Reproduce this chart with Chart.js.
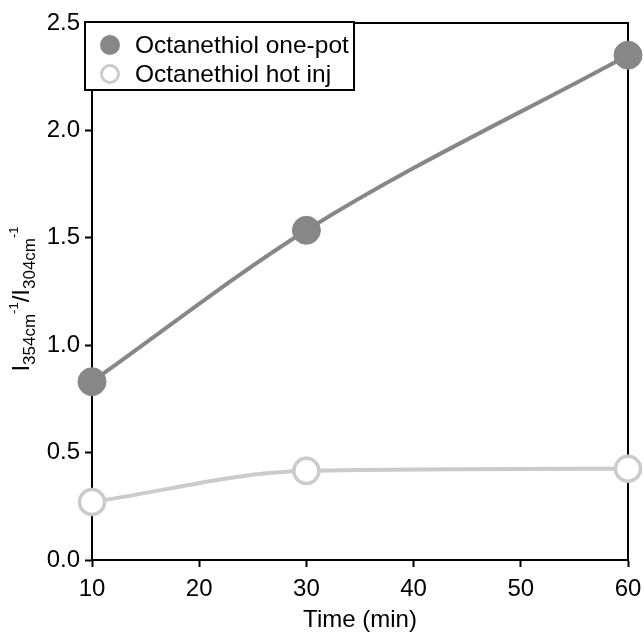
<!DOCTYPE html>
<html>
<head>
<meta charset="utf-8">
<script src="https://cdn.jsdelivr.net/npm/chart.js@4.4.1/dist/chart.umd.min.js"></script>
<style>
  html, body { margin: 0; padding: 0; background: #fff; }
  #chart { display: block; }
</style>
</head>
<body>
<canvas id="chart" width="644" height="632"></canvas>
<script>
const times = [10, 30, 60];
const onePot = [0.83, 1.535, 2.35];
const hotInj = [0.27, 0.415, 0.425];
const seriesNames = ['Octanethiol one-pot', 'Octanethiol hot inj'];
const yTicks = [0, 0.5, 1.0, 1.5, 2.0, 2.5];
const xTicks = [10, 20, 30, 40, 50, 60];

const FONT = '"Liberation Sans", Arial, sans-serif';
const darkGrey = '#878787';
const lightGrey = '#cbcbcb';

function toPoints(xs, ys) {
    return xs.map((x, i) => ({ x: x, y: ys[i] }));
}

// top and right edges of the frame
const framePlugin = {
    id: 'frame',
    beforeDatasetsDraw(chart) {
        const { ctx, chartArea: a } = chart;
        ctx.save();
        ctx.strokeStyle = '#000';
        ctx.lineWidth = 2;
        ctx.beginPath();
        ctx.moveTo(a.left, a.top);
        ctx.lineTo(a.right, a.top);
        ctx.lineTo(a.right, a.bottom);
        ctx.stroke();
        ctx.restore();
    }
};

// y title with sub/superscripts: I354cm-1 / I304cm-1
const yTitlePlugin = {
    id: 'yTitle',
    afterDraw(chart) {
        const ctx = chart.ctx;
        const parts = [
            { t: 'I', size: 24, dy: 0 },
            { t: '354cm', size: 17, dy: 6 },
            { t: '-1', size: 13, dy: -11 },
            { t: '/', size: 24, dy: 0 },
            { t: 'I', size: 24, dy: 0 },
            { t: '304cm', size: 17, dy: 6 },
            { t: '-1', size: 13, dy: -11 },
        ];
        ctx.save();
        let total = 0;
        parts.forEach(p => {
            ctx.font = p.size + 'px ' + FONT;
            p.w = ctx.measureText(p.t).width;
            total += p.w;
        });
        ctx.translate(29, 299);
        ctx.rotate(-Math.PI / 2);
        ctx.fillStyle = '#000';
        ctx.textBaseline = 'alphabetic';
        let x = -total / 2;
        parts.forEach(p => {
            ctx.font = p.size + 'px ' + FONT;
            ctx.fillText(p.t, x, p.dy);
            x += p.w;
        });
        ctx.restore();
    }
};

// boxed legend in the upper left corner
const boxLegendPlugin = {
    id: 'boxLegend',
    afterDraw(chart) {
        const ctx = chart.ctx;
        const left = 85, top = 22, w = 269, h = 68;
        ctx.save();
        ctx.fillStyle = '#fff';
        ctx.fillRect(left, top, w, h);
        ctx.strokeStyle = '#000';
        ctx.lineWidth = 2;
        ctx.strokeRect(left, top, w, h);
        ctx.font = '24.5px ' + FONT;
        ctx.textBaseline = 'middle';
        chart.data.datasets.forEach((ds, i) => {
            const cy = 45 + i * 29;
            ctx.beginPath();
            if (ds.pointBackgroundColor === '#fff') {
                ctx.arc(110, cy, 8.5, 0, Math.PI * 2);
                ctx.fillStyle = '#fff';
                ctx.fill();
                ctx.lineWidth = 3;
                ctx.strokeStyle = ds.borderColor;
                ctx.stroke();
            } else {
                ctx.arc(110, cy, 10, 0, Math.PI * 2);
                ctx.fillStyle = ds.borderColor;
                ctx.fill();
            }
            ctx.fillStyle = '#000';
            ctx.fillText(ds.label, 135, cy + 1);
        });
        ctx.restore();
    }
};

const axisCommon = {
    border: { display: true, color: '#000', width: 2 },
    grid: {
        drawOnChartArea: false,
        drawTicks: true,
        tickLength: 7,
        tickColor: '#000',
        tickWidth: 2,
    },
};

const chart = new Chart(document.getElementById('chart').getContext('2d'), {
    type: 'line',
    data: {
        datasets: [
            {
                label: seriesNames[0],
                data: toPoints(times, onePot),
                borderColor: darkGrey,
                borderWidth: 4,
                pointBackgroundColor: darkGrey,
                pointBorderColor: darkGrey,
                pointBorderWidth: 1,
                pointRadius: 14,
                cubicInterpolationMode: 'monotone',
                clip: false,
            },
            {
                label: seriesNames[1],
                data: toPoints(times, hotInj),
                borderColor: lightGrey,
                borderWidth: 4,
                pointBackgroundColor: '#fff',
                pointBorderColor: lightGrey,
                pointBorderWidth: 3.5,
                pointRadius: 12.5,
                cubicInterpolationMode: 'monotone',
                clip: false,
            },
        ]
    },
    options: {
        responsive: false,
        animation: false,
        layout: { padding: { top: 23, right: 16, left: 0, bottom: 0 } },
        plugins: {
            legend: { display: false },
            tooltip: { enabled: false },
        },
        scales: {
            x: {
                ...axisCommon,
                type: 'linear',
                min: 10,
                max: 60,
                afterBuildTicks: scale => { scale.ticks = xTicks.map(v => ({ value: v })); },
                afterFit: scale => {
                    scale.height = 72;
                    // let the "60" label hang into the right padding
                    scale.paddingRight = 0;
                },
                ticks: {
                    color: '#000',
                    font: { family: FONT, size: 24 },
                    padding: 8,
                    maxRotation: 0,
                    callback: v => String(v),
                },
                title: {
                    display: true,
                    text: 'Time (min)',
                    color: '#000',
                    font: { family: FONT, size: 24 },
                    padding: { top: 0, bottom: -3 },
                },
            },
            y: {
                ...axisCommon,
                min: 0,
                max: 2.5,
                afterBuildTicks: scale => { scale.ticks = yTicks.map(v => ({ value: v })); },
                afterFit: scale => { scale.width = 92; },
                ticks: {
                    color: '#000',
                    font: { family: FONT, size: 24 },
                    padding: 5,
                    callback: v => v.toFixed(1),
                },
            },
        },
    },
    plugins: [framePlugin, yTitlePlugin, boxLegendPlugin],
});
</script>
</body>
</html>
